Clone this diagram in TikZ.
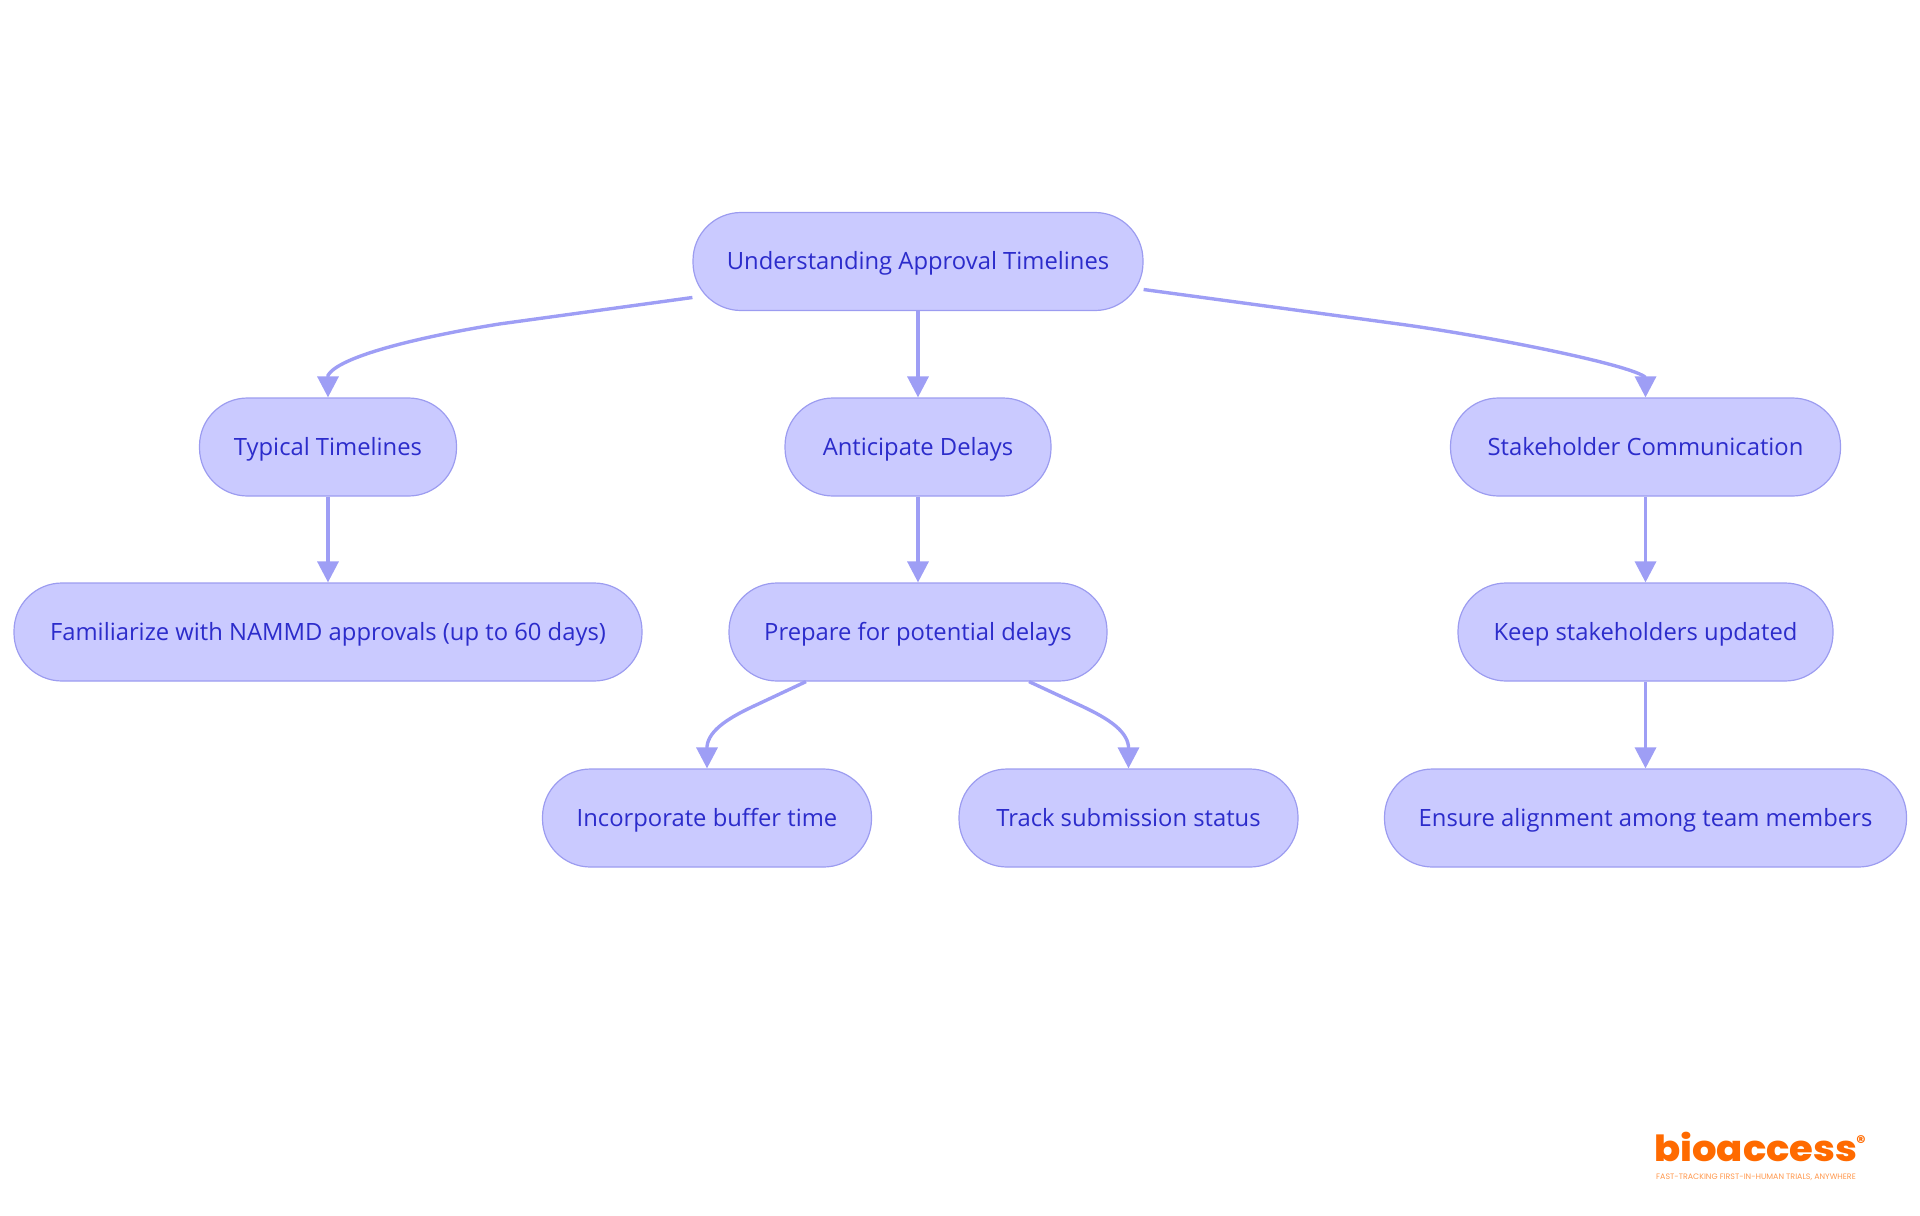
\documentclass[tikz,border=0pt]{standalone}
\usepackage{fontspec}
\setmainfont{Open Sans}
\newfontfamily\logofont[BoldFont={Poppins ExtraBold}]{Poppins}
\usetikzlibrary{arrows.meta,calc}
\definecolor{nodefill}{HTML}{CACAFF}
\definecolor{nodeline}{HTML}{9C9CF0}
\definecolor{edgeline}{HTML}{9E9EF5}
\definecolor{nodetext}{HTML}{2C2CCB}
\definecolor{logoorange}{HTML}{FF6A00}
\tikzset{
  pill/.style={draw=nodeline,fill=nodefill,text=nodetext,line width=0.6pt,rounded corners=24pt,
    minimum height=49pt,minimum width=#1*0.5pt,inner sep=0pt,text height=10.6pt,text depth=2.6pt,
    font=\fontsize{11.9pt}{14pt}\selectfont,anchor=center},
  conn/.style={draw=edgeline,line width=1.7pt,-{Triangle[length=10.5pt,width=10.5pt,color=edgeline]}},
}
\begin{document}
\begin{tikzpicture}[x=0.5pt,y=-0.5pt]
\useasboundingbox (0,0) rectangle (1920,1215);
\node[pill=450] (root) at (918,261.5) {Understanding Approval Timelines};
\node[pill=257] (typical) at (328,447) {Typical Timelines};
\node[pill=266] (anticipate) at (918,447) {Anticipate Delays};
\node[pill=390] (stake) at (1645.5,447) {Stakeholder Communication};
\node[pill=628] (famil) at (328,632) {Familiarize with NAMMD approvals (up to 60 days)};
\node[pill=378] (prepare) at (918,632) {Prepare for potential delays};
\node[pill=375] (keep) at (1645.5,632) {Keep stakeholders updated};
\node[pill=329] (incorp) at (707,818) {Incorporate buffer time};
\node[pill=339] (track) at (1128.5,818) {Track submission status};
\node[pill=522] (ensure) at (1645.5,818) {Ensure alignment among team members};

\coordinate (rootL) at ($(root.west)+(0,36)$);
\coordinate (rootR) at ($(root.east)+(0,28)$);
\coordinate (prepL) at ($(prepare.south)+(-112,0)$);
\coordinate (prepR) at ($(prepare.south)+(111,0)$);

\path[conn] (rootL) -- ($(typical.north)+(172,-73.5)$)
  .. controls ($(typical.north)+(112,-64)$) and ($(typical.north)+(12,-43.5)$) .. ($(typical.north)+(0,-22)$) -- (typical.north);
\path[conn] (root.south) -- (anticipate.north);
\path[conn] (rootR) -- ($(stake.north)+(-240,-72.5)$)
  .. controls ($(stake.north)+(-145,-59)$) and ($(stake.north)+(-13,-32)$) .. ($(stake.north)+(0,-20)$) -- (stake.north);
\path[conn] (typical.south) -- (famil.north);
\path[conn] (anticipate.south) -- (prepare.north);
\path[conn] (stake.south) -- (keep.north);
\path[conn] (keep.south) -- (ensure.north);
\path[conn] (prepL) -- ($(incorp.north)+(51.5,-64.5)$)
  .. controls ($(incorp.north)+(23,-51.5)$) and ($(incorp.north)+(2,-39)$) .. ($(incorp.north)+(0,-22)$) -- (incorp.north);
\path[conn] (prepR) -- ($(track.north)+(-51.5,-64.5)$)
  .. controls ($(track.north)+(-23,-51.5)$) and ($(track.north)+(-2,-39)$) .. ($(track.north)+(0,-22)$) -- (track.north);

\node[text=logoorange,inner sep=0pt,anchor=base west,font=\logofont\bfseries\fontsize{18pt}{20pt}\selectfont] (logo) at (1654,1161.5) {\scalebox{1.07}[1]{bioaccess}};
\node[text=logoorange,inner sep=0pt,anchor=center,font=\logofont\bfseries\fontsize{9pt}{10pt}\selectfont] (reg) at (1861,1142) {®};
\node[text=logoorange!70,inner sep=0pt,anchor=center,font=\logofont\fontsize{3.95pt}{4.5pt}\selectfont] (tag) at (1756,1177) {FAST-TRACKING FIRST-IN-HUMAN TRIALS, ANYWHERE};
\end{tikzpicture}
\end{document}
